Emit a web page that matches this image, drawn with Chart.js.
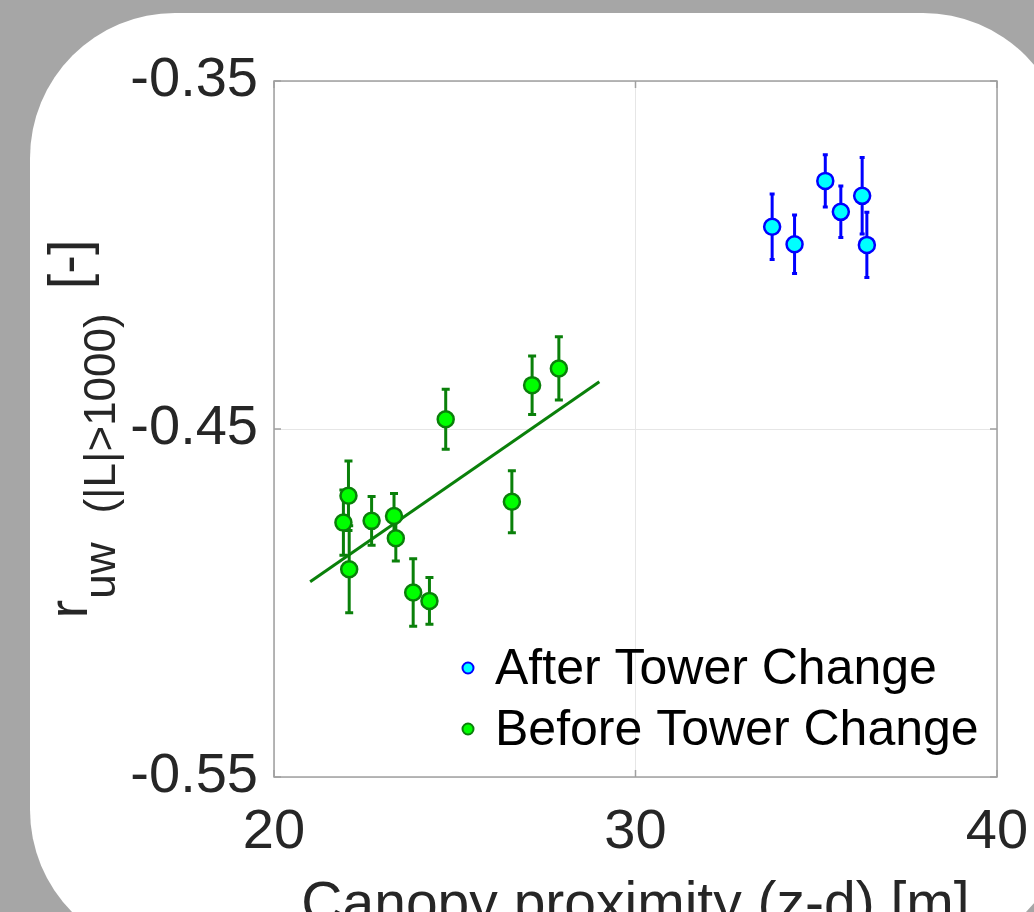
<!DOCTYPE html>
<html><head><meta charset="utf-8">
<script src="https://cdn.jsdelivr.net/npm/chart.js@4/dist/chart.umd.min.js"></script>
<style>
html,body{margin:0;padding:0;background:#a6a6a6;width:1034px;height:912px;overflow:hidden;}
#panel{position:absolute;left:30px;top:13px;width:1038px;height:942px;background:#fff;border-radius:145px;}
#wrap{position:absolute;left:0;top:0;width:1034px;height:912px;}
</style></head><body>
<div id="panel"></div>
<div id="wrap"><canvas id="c" width="1034" height="912"></canvas></div>
<script>
// ---- data ----
const afterX   = [33.78, 34.40, 35.25, 35.68, 36.27, 36.40];
const afterY   = [-0.3919, -0.3969, -0.3787, -0.3876, -0.3830, -0.3971];
const afterErr = [0.0094, 0.0084, 0.0075, 0.0074, 0.0110, 0.0094];

const beforeX   = [21.92, 22.06, 22.08, 22.70, 23.32, 23.37, 23.85, 24.30, 24.75, 26.58, 27.14, 27.88];
const beforeY   = [-0.4769, -0.4692, -0.4903, -0.4764, -0.4750, -0.4814, -0.4970, -0.4994, -0.4472, -0.4709, -0.4374, -0.4326];
const beforeErr = [0.0094, 0.0100, 0.0125, 0.0070, 0.0065, 0.0065, 0.0097, 0.0067, 0.0086, 0.0089, 0.0084, 0.0091];

const fitX = [21.0, 29.0];
const fitY = [-0.4939, -0.4364];

const xTicks = [20, 30, 40];
const yTicks = [-0.55, -0.45, -0.35];
const xTickLabels = ['20', '30', '40'];
const yTickLabels = ['-0.55', '-0.45', '-0.35'];

const seriesLabels = ['After Tower Change', 'Before Tower Change'];
const xTitle = 'Canopy proximity (z-d) [m]';
const yTitleParts = ['r', 'uw', '(|L|>1000)', '[-]'];

// ---- build ----
const FONT = '"Liberation Sans", Arial, Helvetica, sans-serif';
const toPts = (xs, ys) => xs.map((v, i) => ({x: v, y: ys[i]}));

const errPlugin = {
  id: 'errbars',
  beforeDatasetsDraw(chart) {
    const {ctx, scales: {x, y}} = chart;
    chart.data.datasets.forEach(ds => {
      if (!ds.err) return;
      ctx.save();
      ctx.strokeStyle = ds.errColor;
      ctx.lineWidth = ds.errWidth;
      ctx.lineCap = 'butt';
      ds.data.forEach((p, j) => {
        const px = x.getPixelForValue(p.x);
        const y1 = y.getPixelForValue(p.y + ds.err[j]);
        const y2 = y.getPixelForValue(p.y - ds.err[j]);
        const c = ds.errCap;
        ctx.beginPath();
        ctx.moveTo(px, y1); ctx.lineTo(px, y2);
        ctx.moveTo(px - c, y1); ctx.lineTo(px + c, y1);
        ctx.moveTo(px - c, y2); ctx.lineTo(px + c, y2);
        ctx.stroke();
      });
      ctx.restore();
    });
  }
};

const framePlugin = {
  id: 'frame',
  afterDatasetsDraw(chart) {
    const {ctx, chartArea: a, scales: {x, y}} = chart;
    ctx.save();
    ctx.strokeStyle = '#a0a0a0';
    ctx.lineWidth = 1.5;
    ctx.strokeRect(a.left, a.top, a.right - a.left, a.bottom - a.top);
    ctx.beginPath();
    const tl = 7;
    xTicks.forEach(v => {
      const px = x.getPixelForValue(v);
      ctx.moveTo(px, a.bottom); ctx.lineTo(px, a.bottom - tl);
      ctx.moveTo(px, a.top); ctx.lineTo(px, a.top + tl);
    });
    yTicks.forEach(v => {
      const py = y.getPixelForValue(v);
      ctx.moveTo(a.left, py); ctx.lineTo(a.left + tl, py);
      ctx.moveTo(a.right, py); ctx.lineTo(a.right - tl, py);
    });
    ctx.stroke();
    ctx.restore();
  },
  afterDraw(chart) {
    const {ctx, chartArea: a} = chart;
    ctx.save();
    // legend
    const lx = 468, ly = [668, 729], tx = 495;
    ctx.font = '50px ' + FONT;
    ctx.textBaseline = 'middle';
    ctx.textAlign = 'left';
    [0, 1].forEach(i => {
      const ds = chart.data.datasets[i];
      ctx.beginPath();
      ctx.arc(lx, ly[i], 5.5, 0, Math.PI * 2);
      ctx.fillStyle = ds.backgroundColor;
      ctx.fill();
      ctx.lineWidth = 2;
      ctx.strokeStyle = ds.borderColor;
      ctx.stroke();
      ctx.fillStyle = '#000';
      ctx.fillText(seriesLabels[i], tx, ly[i] + 2);
    });
    // x title
    ctx.fillStyle = '#262626';
    ctx.font = '57px ' + FONT;
    ctx.textAlign = 'center';
    ctx.textBaseline = 'alphabetic';
    ctx.fillText(xTitle, (a.left + a.right) / 2, 922);
    // y title (rotated, with subscripts)
    const big = '56px ' + FONT, small = '44px ' + FONT;
    const parts = [
      {t: yTitleParts[0], f: big, dy: 0, gap: 1},
      {t: yTitleParts[1], f: small, dy: 28, gap: 29},
      {t: yTitleParts[2], f: small, dy: 28, gap: 24},
      {t: yTitleParts[3], f: big, dy: 0, gap: 0}
    ];
    let total = 0;
    parts.forEach(p => { ctx.font = p.f; p.w = ctx.measureText(p.t).width; total += p.w + p.gap; });
    const cy = (a.top + a.bottom) / 2;
    ctx.translate(87, cy);
    ctx.rotate(-Math.PI / 2);
    ctx.textAlign = 'left';
    let pos = -total / 2;
    parts.forEach(p => {
      ctx.font = p.f;
      ctx.fillText(p.t, pos, p.dy);
      pos += p.w + p.gap;
    });
    ctx.restore();
  }
};

const tickFont = {family: FONT, size: 56};

new Chart(document.getElementById('c'), {
  type: 'scatter',
  data: {
    datasets: [
      {
        label: seriesLabels[0], data: toPts(afterX, afterY),
        backgroundColor: '#00ffff', borderColor: '#0000ff',
        pointRadius: 8, borderWidth: 2.5,
        err: afterErr, errColor: '#0000ff', errWidth: 3, errCap: 2.5
      },
      {
        label: seriesLabels[1], data: toPts(beforeX, beforeY),
        backgroundColor: '#00ff00', borderColor: '#0a800a',
        pointRadius: 8, borderWidth: 2.5,
        err: beforeErr, errColor: '#0a800a', errWidth: 3, errCap: 4
      },
      {
        type: 'line', label: 'fit', data: toPts(fitX, fitY),
        borderColor: '#0a800a', borderWidth: 3, pointRadius: 0, fill: false
      }
    ]
  },
  options: {
    responsive: false,
    animation: false,
    devicePixelRatio: 1,
    events: [],
    layout: {padding: {top: 81, right: 37, bottom: 0, left: 0}},
    plugins: {legend: {display: false}, tooltip: {enabled: false}},
    scales: {
      x: {
        type: 'linear', min: 20, max: 40,
        afterBuildTicks: s => { s.ticks = xTicks.map(v => ({value: v})); },
        afterFit: s => { s.height = 135; s.paddingLeft = 0; s.paddingRight = 0; },
        ticks: {font: tickFont, color: '#262626', padding: 22, maxRotation: 0,
                callback: (v) => xTickLabels[xTicks.indexOf(v)]},
        grid: {color: '#e6e6e6', lineWidth: 1, drawTicks: false},
        border: {display: false}
      },
      y: {
        type: 'linear', min: -0.55, max: -0.35,
        afterBuildTicks: s => { s.ticks = yTicks.map(v => ({value: v})); },
        afterFit: s => { s.width = 274; s.paddingTop = 0; s.paddingBottom = 0; },
        ticks: {font: tickFont, color: '#262626', padding: 16,
                callback: (v) => yTickLabels[yTicks.findIndex(t => Math.abs(t - v) < 1e-9)]},
        grid: {color: '#e6e6e6', lineWidth: 1, drawTicks: false},
        border: {display: false}
      }
    }
  },
  plugins: [errPlugin, framePlugin]
});
</script>
</body></html>
